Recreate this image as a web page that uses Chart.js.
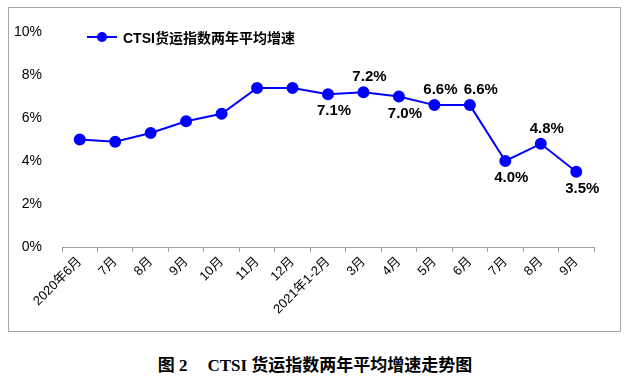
<!DOCTYPE html>
<html>
<head>
<meta charset="utf-8">
<script src="https://cdn.jsdelivr.net/npm/chart.js@4"></script>
<style>
    html, body { margin: 0; padding: 0; background: #fff; }
    body { width: 630px; height: 389px; position: relative; overflow: hidden; }
    #frame { position: absolute; left: 8px; top: 7px; width: 611px; height: 323px; border: 1px solid #a6a6a6; }
    #chart-box { position: absolute; left: 0; top: 0; width: 630px; height: 340px; }
    #legend { position: absolute; left: 87px; top: 27px; height: 20px; display: flex; align-items: center;
        font: bold 14px "Liberation Sans", Arial, "Noto Sans CJK SC", sans-serif; color: #000; }
    #legend .mark { position: relative; width: 30px; height: 20px; margin-right: 6px; }
    #legend .mark::before { content: ''; position: absolute; left: 0; right: 0; top: 9px; height: 2px; background: #0000ff; }
    #legend .mark::after { content: ''; position: absolute; left: 10px; top: 5px; width: 10px; height: 10px; border-radius: 50%; background: #0000ff; }
    #caption { position: absolute; left: 0; width: 630px; top: 351px; text-align: center;
        font: bold 17px "Liberation Serif", "Times New Roman", "Noto Sans CJK SC", serif; color: #000; }
</style>
</head>
<body>
<div id="frame"></div>
<div id="chart-box"><canvas id="ctsi-chart" width="630" height="340"></canvas></div>
<div id="legend"><span class="mark"></span>CTSI货运指数两年平均增速</div>
<div id="caption">图 2<span style="display:inline-block;width:20px"></span>CTSI 货运指数两年平均增速走势图</div>

<script>
// categories and values
const months = ['2020年6月', '7月', '8月', '9月', '10月', '11月', '12月', '2021年1-2月', '3月', '4月', '5月', '6月', '7月', '8月', '9月'];
const growthRate = [5.0, 4.9, 5.3, 5.85, 6.2, 7.4, 7.4, 7.1, 7.2, 7.0, 6.6, 6.6, 4.0, 4.8, 3.5];
const yTicks = [0, 2, 4, 6, 8, 10];

// which points get a value label, and on which side
const labelSide = [null, null, null, null, null, null, null, 'below', 'above', 'below', 'above', 'above', 'below', 'above', 'below'];

/**
 * Draw the bold percentage labels next to the points
 */
const pointLabels = {
    id: 'pointLabels',
    afterDatasetsDraw(chart) {
        const ctx = chart.ctx;
        const meta = chart.getDatasetMeta(0);
        ctx.save();
        ctx.font = 'bold 15px "Liberation Sans", Arial, sans-serif';
        ctx.fillStyle = '#000';
        ctx.textAlign = 'center';
        ctx.textBaseline = 'middle';
        meta.data.forEach((pt, i) => {
            const side = labelSide[i];
            if (!side) return;
            const dy = side === 'above' ? -15 : 17;
            // second of the two 6.6% labels sits a little further right
            const dx = (i === 11) ? 11 : 6;
            ctx.fillText(growthRate[i].toFixed(1) + '%', pt.x + dx, pt.y + dy);
        });
        ctx.restore();
    }
};

const ctx = document.getElementById('ctsi-chart').getContext('2d');
new Chart(ctx, {
    type: 'line',
    data: {
        labels: months,
        datasets: [{
            label: 'CTSI货运指数两年平均增速',
            data: growthRate,
            borderColor: '#0000ff',
            backgroundColor: '#0000ff',
            borderWidth: 2,
            pointRadius: 5,
            pointHoverRadius: 5,
            tension: 0,
            fill: false,
        }]
    },
    options: {
        responsive: false,
        animation: false,
        layout: { padding: { top: 32, right: 36, left: 0, bottom: 0 } },
        plugins: {
            legend: { display: false },
            tooltip: { enabled: false },
        },
        scales: {
            x: {
                offset: true,
                grid: { offset: true, drawOnChartArea: false, color: '#a0a0a0', tickLength: 5 },
                border: { display: true, color: '#a0a0a0', width: 1 },
                ticks: {
                    color: '#000',
                    minRotation: 45,
                    maxRotation: 45,
                    padding: 2,
                    autoSkip: false,
                    font: { family: '"Liberation Sans", Arial, "Noto Sans CJK SC", sans-serif', size: 13 },
                },
                afterFit(scale) { scale.height = 93; },
            },
            y: {
                min: 0,
                max: 10,
                afterBuildTicks(scale) { scale.ticks = yTicks.map(v => ({ value: v })); },
                grid: { display: false },
                border: { display: false },
                ticks: {
                    color: '#000',
                    padding: 12,
                    font: { family: '"Liberation Sans", Arial, sans-serif', size: 14 },
                    callback: v => v + '%',
                },
                afterFit(scale) { scale.width = 62; },
            }
        }
    },
    plugins: [pointLabels]
});
</script>
</body>
</html>
